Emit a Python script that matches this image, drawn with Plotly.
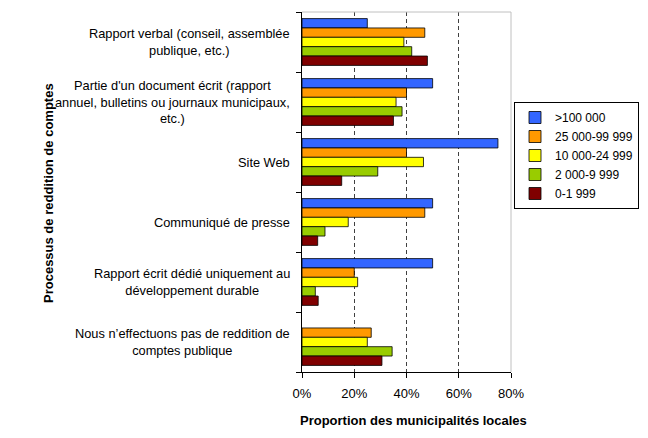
import plotly.graph_objects as go

categories = [
    "Rapport verbal (conseil, assemblée<br>publique, etc.)",
    "Partie d'un document écrit (rapport<br>annuel, bulletins ou journaux municipaux,<br>etc.)",
    "Site Web",
    "Communiqué de presse",
    "Rapport écrit dédié uniquement au<br>développement durable",
    "Nous n’effectuons pas de reddition de<br>comptes publique",
]
series_names = [">100 000", "25 000-99 999", "10 000-24 999", "2 000-9 999", "0-1 999"]
v_100000 = [25, 50, 75, 50, 50, None]
v_25000 = [47, 40, 40, 47, 20, 26.5]
v_10000 = [39, 36, 46.5, 17.7, 21.3, 25]
v_2000 = [42, 38.3, 29, 8.8, 5.1, 34.5]
v_0 = [48, 35, 15.2, 6, 6.2, 30.6]
series_values = [v_100000, v_25000, v_10000, v_2000, v_0]
colors = ["#3366FF", "#FF9900", "#FFFF00", "#99CC00", "#800000"]
x_ticks = [0, 20, 40, 60, 80]
x_tick_labels = ["0%", "20%", "40%", "60%", "80%"]

FONT = "Liberation Sans, Arial, sans-serif"

# the page body has an 8px margin: the figure is drawn at screen offset (8, 8)
OFF = 8
W, H = 648 - 2 * OFF, 438 - 2 * OFF
PLOT_LEFT, PLOT_RIGHT, PLOT_TOP, PLOT_BOTTOM = 302, 511, 12, 372   # screen px
ML = PLOT_LEFT - OFF
MT = PLOT_TOP - OFF
MB = H - (PLOT_BOTTOM - OFF)
MR = 0
PW = W - ML - MR
PH = H - MT - MB
DOM = (PLOT_RIGHT - PLOT_LEFT) / PW

def px_x(px):
    return (px - PLOT_LEFT) / PW

def px_y(py):
    return (PLOT_BOTTOM - py) / PH

fig = go.Figure()
for name, vals, col in zip(series_names, series_values, colors):
    fig.add_trace(go.Bar(
        y=list(range(len(categories))), x=vals, name=name, orientation="h",
        marker=dict(color=col, line=dict(color="#000000", width=0.8)),
    ))

for i, cat in enumerate(categories):
    fig.add_annotation(
        x=0, xref="paper", y=i, yref="y", text=cat, showarrow=False,
        xanchor="right", yanchor="middle", align="center", xshift=-10,
        font=dict(family=FONT, size=12.8, color="#000000"),
    )

fig.add_annotation(
    x=px_x(48), xref="paper", y=px_y(193), yref="paper",
    text="<b>Processus de reddition de comptes</b>",
    textangle=-90, showarrow=False, xanchor="center", yanchor="middle",
    font=dict(family=FONT, size=13, color="#000000"),
)
fig.add_annotation(
    x=px_x(413), xref="paper", y=px_y(420), yref="paper",
    text="<b>Proportion des municipalités locales</b>",
    showarrow=False, xanchor="center", yanchor="middle",
    font=dict(family=FONT, size=13, color="#000000"),
)

# light grey frame at top and right of plot area
fig.add_shape(type="line", xref="x domain", yref="y domain", x0=0, x1=1, y0=1, y1=1,
              line=dict(color="#C0C0C0", width=1), layer="above")
fig.add_shape(type="line", xref="x domain", yref="y domain", x0=1, x1=1, y0=0, y1=1,
              line=dict(color="#C0C0C0", width=1), layer="above")

fig.update_layout(
    width=W, height=H,
    margin=dict(l=ML, r=MR, t=MT, b=MB, autoexpand=False),
    paper_bgcolor="white", plot_bgcolor="white",
    barmode="group", bargap=0.22, bargroupgap=0,
    font=dict(family=FONT, size=13, color="#000000"),
    showlegend=True,
    legend=dict(
        x=px_x(639), y=px_y(155.5), xanchor="right", yanchor="middle",
        bordercolor="#000000", borderwidth=1, bgcolor="white",
        font=dict(family=FONT, size=12, color="#000000"),
        traceorder="normal", tracegroupgap=0, itemwidth=30,
    ),
    xaxis=dict(
        domain=[0, DOM],
        range=[0, 80], tickmode="array", tickvals=x_ticks, ticktext=x_tick_labels,
        showgrid=True, gridcolor="#404040", griddash="4px,3px", gridwidth=1,
        showline=True, linecolor="#000000", linewidth=1,
        ticks="outside", ticklen=5, tickcolor="#000000",
        ticklabelstandoff=4, zeroline=False,
        tickfont=dict(family=FONT, size=13, color="#000000"),
    ),
    yaxis=dict(
        range=[len(categories) - 0.5, -0.5], tickmode="array",
        tickvals=[i - 0.5 for i in range(len(categories) + 1)],
        showticklabels=False, showgrid=False, zeroline=False,
        showline=True, linecolor="#000000", linewidth=1,
        ticks="outside", ticklen=5, tickcolor="#000000",
    ),
)

fig.write_html("out.html")
